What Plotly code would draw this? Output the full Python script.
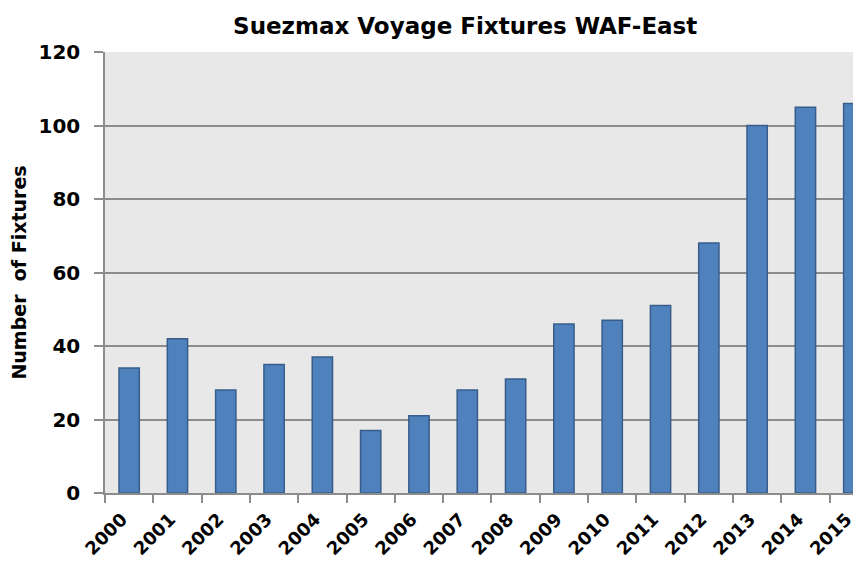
import plotly.graph_objects as go

years = ["2000", "2001", "2002", "2003", "2004", "2005", "2006", "2007",
         "2008", "2009", "2010", "2011", "2012", "2013", "2014", "2015"]
fixtures = [34, 42, 28, 35, 37, 17, 21, 28, 31, 46, 47, 51, 68, 100, 105, 106]
y_ticks = [0, 20, 40, 60, 80, 100, 120]

FONT = "DejaVu Sans"
LABEL_SHIFT = -0.15
year_nums = [int(y) for y in years]

fig = go.Figure(go.Bar(
    x=year_nums, y=fixtures,
    marker=dict(color="#4f81bd", line=dict(color="#385d8a", width=1.5)),
    width=0.42,
))

fig.update_layout(
    width=853, height=559,
    margin=dict(l=97, r=0, t=44, b=74),
    paper_bgcolor="white",
    plot_bgcolor="#e8e8e8",
    showlegend=False,
    title=dict(text="<b>Suezmax Voyage Fixtures WAF-East</b>", x=0.536, xanchor="center",
               y=0.968, yanchor="middle",
               font=dict(family=FONT, size=23, color="black")),
    font=dict(family=FONT, color="black"),
)

fig.update_xaxes(
    type="linear",
    automargin=False,
    range=[year_nums[0] - 0.5, year_nums[-1] + 0.15],
    tickmode="array",
    tickvals=[y + LABEL_SHIFT for y in year_nums],
    ticktext=[f"<b>{y}</b>" for y in years],
    ticks="",
    minor=dict(tickmode="array", tickvals=[y - 0.5 for y in year_nums],
               ticks="outside", ticklen=8, tickcolor="#8c8c8c", tickwidth=1.5,
               showgrid=False),
    ticklabelstandoff=7,
    showline=True, linecolor="#8c8c8c", linewidth=1.5,
    tickangle=-45,
    tickfont=dict(family=FONT, size=18, color="black"),
    showgrid=False, zeroline=False,
)

fig.update_yaxes(
    automargin=False,
    range=[0, 120],
    tickvals=y_ticks,
    ticktext=[f"<b>{v}</b>" for v in y_ticks],
    ticks="outside", ticklen=9, tickcolor="#8c8c8c", tickwidth=1.5,
    ticklabelstandoff=10,
    showline=True, linecolor="#8c8c8c", linewidth=1.5,
    showgrid=True, gridcolor="#8c8c8c", gridwidth=1.5,
    zeroline=False,
    tickfont=dict(family=FONT, size=20, color="black"),
    title=dict(text="<b>Number  of Fixtures</b>", font=dict(family=FONT, size=19, color="black"),
               standoff=10),
)

fig.write_html("out.html")
